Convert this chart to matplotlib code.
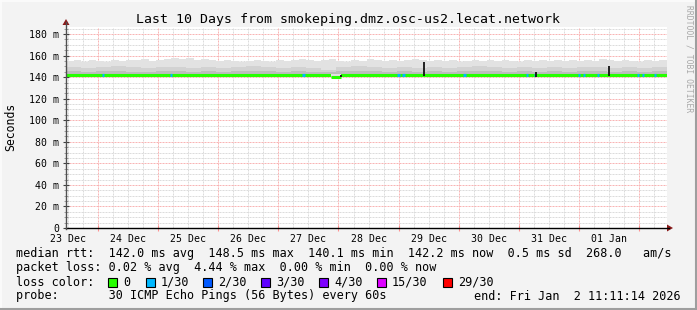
import matplotlib
matplotlib.use("Agg")
import matplotlib.pyplot as plt
from matplotlib.patches import Rectangle, Polygon
from matplotlib.lines import Line2D
import numpy as np

# ---------------- data ----------------
title = "Last 10 Days from smokeping.dmz.osc-us2.lecat.network"
hours_total = 240                     # 10 days, start Dec 23 11:11:14
first_midnight = 12.81                # hours from start to Dec 24 00:00
day_labels = ["23 Dec", "24 Dec", "25 Dec", "26 Dec", "27 Dec",
              "28 Dec", "29 Dec", "30 Dec", "31 Dec", "01 Jan"]
y_ticks = [0, 20, 40, 60, 80, 100, 120, 140, 160, 180]
y_labels = ["0", "20 m", "40 m", "60 m", "80 m", "100 m", "120 m",
            "140 m", "160 m", "180 m"]

# smoke upper envelope, 3-hour bins (ms)
smoke_top = [155, 156, 154, 156, 155, 154, 156, 155, 156, 156,
             157, 155, 156, 157, 158, 157, 158, 156, 157, 156,
             155, 156, 155, 154, 155, 156, 155, 154, 156, 155,
             156, 157, 156, 155, 156, 157, 155, 154, 156, 155,
             157, 156, 155, 156, 155, 156, 157, 156, 155, 156,
             155, 156, 154, 155, 156, 155, 156, 155, 156, 155,
             154, 156, 155, 156, 155, 156, 155, 156, 155, 156,
             155, 157, 156, 155, 156, 155, 154, 156, 155, 156]
# darker inner smoke bands, 6-hour bins (ms)
smoke_mid = [149, 148, 149, 150, 149, 148, 149, 149, 148, 149,
             148, 149, 150, 149, 148, 149, 148, 147, 149, 150,
             149, 148, 149, 148, 149, 148, 149, 150, 149, 148,
             149, 148, 149, 148, 149, 149, 148, 149, 148, 149]
smoke_dark = [145.5, 145, 146, 146, 145, 145, 146, 145.5, 145, 146,
              145, 145.5, 146, 146, 145, 145.5, 145, 144.5, 145.5, 146,
              146, 145, 145.5, 145, 146, 145, 145.5, 146, 146, 145,
              145.5, 145, 146, 145, 146, 145.5, 145, 146, 145, 145.5]
smoke_low = 141.0
# median rtt, 6-hour bins (ms)
median_rtt = [142.0, 142.1, 142.0, 142.0, 142.1, 142.0, 142.0, 142.1, 142.0, 142.0,
              142.1, 142.0, 142.0, 142.0, 142.1, 142.0, 142.0, 142.1, 142.0, 142.0,
              142.0, 142.1, 142.0, 142.0, 142.1, 142.0, 142.0, 142.0, 142.1, 142.0,
              142.0, 142.1, 142.0, 142.0, 142.0, 142.1, 142.0, 142.0, 142.1, 142.2]
dip_start, dip_end, dip_value = 106.0, 110.0, 139.7
# 1/30 loss events (hours from start)
loss_hours = [14.8, 42.0, 94.8, 132.8, 134.8, 159.2, 184.0, 187.2,
              204.8, 206.8, 212.4, 228.4, 230.4, 235.2]
# dark spikes (hours, low ms, high ms)
spike_hours = [142.8, 187.6, 216.8, 110.0]
spike_low = [141.0, 140.0, 141.0, 140.0]
spike_high = [154.0, 145.0, 150.0, 141.5]

loss_names = ["0", "1/30", "2/30", "3/30", "4/30", "15/30", "29/30"]
loss_colors = ["#26ff00", "#00b8ff", "#0059ff", "#5e00ff", "#7e00ff",
               "#dd00ff", "#ff0000"]

# ---------------- figure ----------------
W, H = 697, 310
fig = plt.figure(figsize=(W / 100, H / 100), dpi=100)
fig.patch.set_facecolor('#f3f3f3')

L, R, T, B = 66, 667, 27, 228
ax = fig.add_axes([L / W, 1 - B / H, (R - L) / W, (B - T) / H])
ax.set_facecolor('white')
ax.set_xlim(0, hours_total)
ax.set_ylim(0, 186.5)
for s in ax.spines.values():
    s.set_visible(False)

mono = 'DejaVu Sans Mono'

# grid
minor_c = '#dcdcdc'
major_c = '#f9b4b4'
for yv in np.arange(5, 186, 5):
    if yv % 20 == 0:
        continue
    ax.axhline(yv, color=minor_c, lw=0.72, ls=(0, (2, 1)), zorder=1)
midnights = [first_midnight + 24 * k for k in range(10)]
for k in range(-2, 40):
    xv = first_midnight + 6 * k
    if 0 < xv < hours_total and (k % 4) != 0:
        ax.axvline(xv, color=minor_c, lw=0.72, ls=(0, (2, 1)), zorder=1)
for yv in y_ticks[1:]:
    ax.axhline(yv, color=major_c, lw=0.72, ls=(0, (2, 1)), zorder=1.5)
for xv in midnights:
    ax.axvline(xv, color=major_c, lw=0.72, ls=(0, (2, 1)), zorder=1.5)

# smoke
e3 = np.arange(len(smoke_top) + 1) * 3.0
e6 = np.arange(len(smoke_mid) + 1) * 6.0
ax.fill_between(e3, smoke_low, smoke_top + [smoke_top[-1]], step='post',
                color='#e2e2e2', lw=0, zorder=2)
ax.fill_between(e6, smoke_low, smoke_mid + [smoke_mid[-1]], step='post',
                color='#d2d2d2', lw=0, zorder=2.1)
ax.fill_between(e6, smoke_low, smoke_dark + [smoke_dark[-1]], step='post',
                color='#bdbdbd', lw=0, zorder=2.2)

# median line
ax.step(e6, median_rtt + [median_rtt[-1]], where='post',
        color=loss_colors[0], lw=2.2, zorder=3)
ax.fill_between([dip_start, dip_end], dip_value + 0.8, 143.2, color='#e2e2e2',
                lw=0, zorder=3.05)
ax.plot([dip_start, dip_end], [dip_value, dip_value], color=loss_colors[0],
        lw=2.2, zorder=3.1, solid_capstyle='butt')
for h in loss_hours:
    ax.plot([h - 0.5, h + 0.5], [142.0, 142.0], color=loss_colors[1], lw=2.2,
            zorder=3.2, solid_capstyle='butt')
for h, lo, hi in zip(spike_hours, spike_low, spike_high):
    ax.plot([h, h], [lo, hi], color='#111111', lw=1.3, zorder=3.3,
            solid_capstyle='butt')

# ticks
ax.set_yticks(y_ticks)
ax.set_yticklabels(y_labels, fontfamily=mono, fontsize=7.1)
ax.set_yticks(np.arange(5, 186, 5), minor=True)
ax.tick_params(axis='y', which='major', direction='inout', length=4, width=0.8,
               color='#404040', pad=3)
ax.tick_params(axis='y', which='minor', direction='inout', length=3, width=0.6,
               color='#909090')
noons = [first_midnight - 12 + 24 * k for k in range(10)]
ax.set_xticks(noons)
ax.set_xticklabels(day_labels, fontfamily=mono, fontsize=7.1)
ax.tick_params(axis='x', which='major', length=0, pad=4)
ax.set_xticks(midnights, minor=True)
ax.tick_params(axis='x', which='minor', direction='inout', length=4, width=0.8,
               color='#ff9090')

# axes lines with arrows
def fx(x):
    return x / W

def fy(y):
    return 1 - y / H

fig.add_artist(Line2D([fx(L), fx(669)], [fy(B), fy(B)], color='black', lw=1.0))
fig.add_artist(Line2D([fx(L), fx(L)], [fy(B + 1), fy(22)], color='#505050', lw=1.0))
fig.add_artist(Polygon([[fx(667), fy(224.5)], [fx(673), fy(228)], [fx(667), fy(231.5)]],
                       closed=True, color='#8b1a1a', lw=0))
fig.add_artist(Polygon([[fx(62.5), fy(25)], [fx(66), fy(19)], [fx(69.5), fy(25)]],
                       closed=True, color='#8b1a1a', lw=0))

# title / labels
fig.text(fx(348), fy(19), title, fontfamily=mono, fontsize=9.5,
         ha='center', va='center', color='black')
fig.text(fx(11), fy(127), "Seconds", fontfamily=mono, fontsize=8.3,
         rotation=90, ha='center', va='center')
fig.text(fx(689), fy(5), "RRDTOOL / TOBI OETIKER", fontfamily=mono, fontsize=5.8,
         rotation=270, ha='center', va='top', color='#a8a8a8')

# legend
lfs = 8.5
fig.text(fx(16), fy(254), "median rtt:  142.0 ms avg  148.5 ms max  140.1 ms min  "
         "142.2 ms now  0.5 ms sd  268.0   am/s", fontfamily=mono, fontsize=lfs,
         ha='left', va='center')
fig.text(fx(16), fy(268), "packet loss: 0.02 % avg  4.44 % max  0.00 % min  0.00 % now",
         fontfamily=mono, fontsize=lfs, ha='left', va='center')
fig.text(fx(16), fy(282), "loss color:", fontfamily=mono, fontsize=lfs,
         ha='left', va='center')
sq_x = [108, 146, 203, 261, 319, 377, 443]
for sx, nm, col in zip(sq_x, loss_names, loss_colors):
    fig.add_artist(Rectangle((fx(sx), fy(287)), 9 / W, 9 / H, facecolor=col,
                             edgecolor='black', lw=0.8))
    fig.text(fx(sx + 15), fy(282), nm, fontfamily=mono, fontsize=lfs,
             ha='left', va='center')
fig.text(fx(16), fy(296), "probe:       30 ICMP Echo Pings (56 Bytes) every 60s",
         fontfamily=mono, fontsize=lfs, ha='left', va='center')
fig.text(fx(681), fy(296), "end: Fri Jan  2 11:11:14 2026", fontfamily=mono,
         fontsize=lfs, ha='right', va='center')

# 3D border
fig.add_artist(Line2D([0, 1], [fy(0.5), fy(0.5)], color='#fcfcfc', lw=1.2))
fig.add_artist(Line2D([fx(0.5), fx(0.5)], [0, 1], color='#fcfcfc', lw=1.2))
fig.add_artist(Line2D([0, 1], [fy(309), fy(309)], color='#9e9e9e', lw=1.5))
fig.add_artist(Line2D([fx(696), fx(696)], [0, 1], color='#9e9e9e', lw=1.5))

fig.savefig("out.png", dpi=100, facecolor=fig.get_facecolor())
